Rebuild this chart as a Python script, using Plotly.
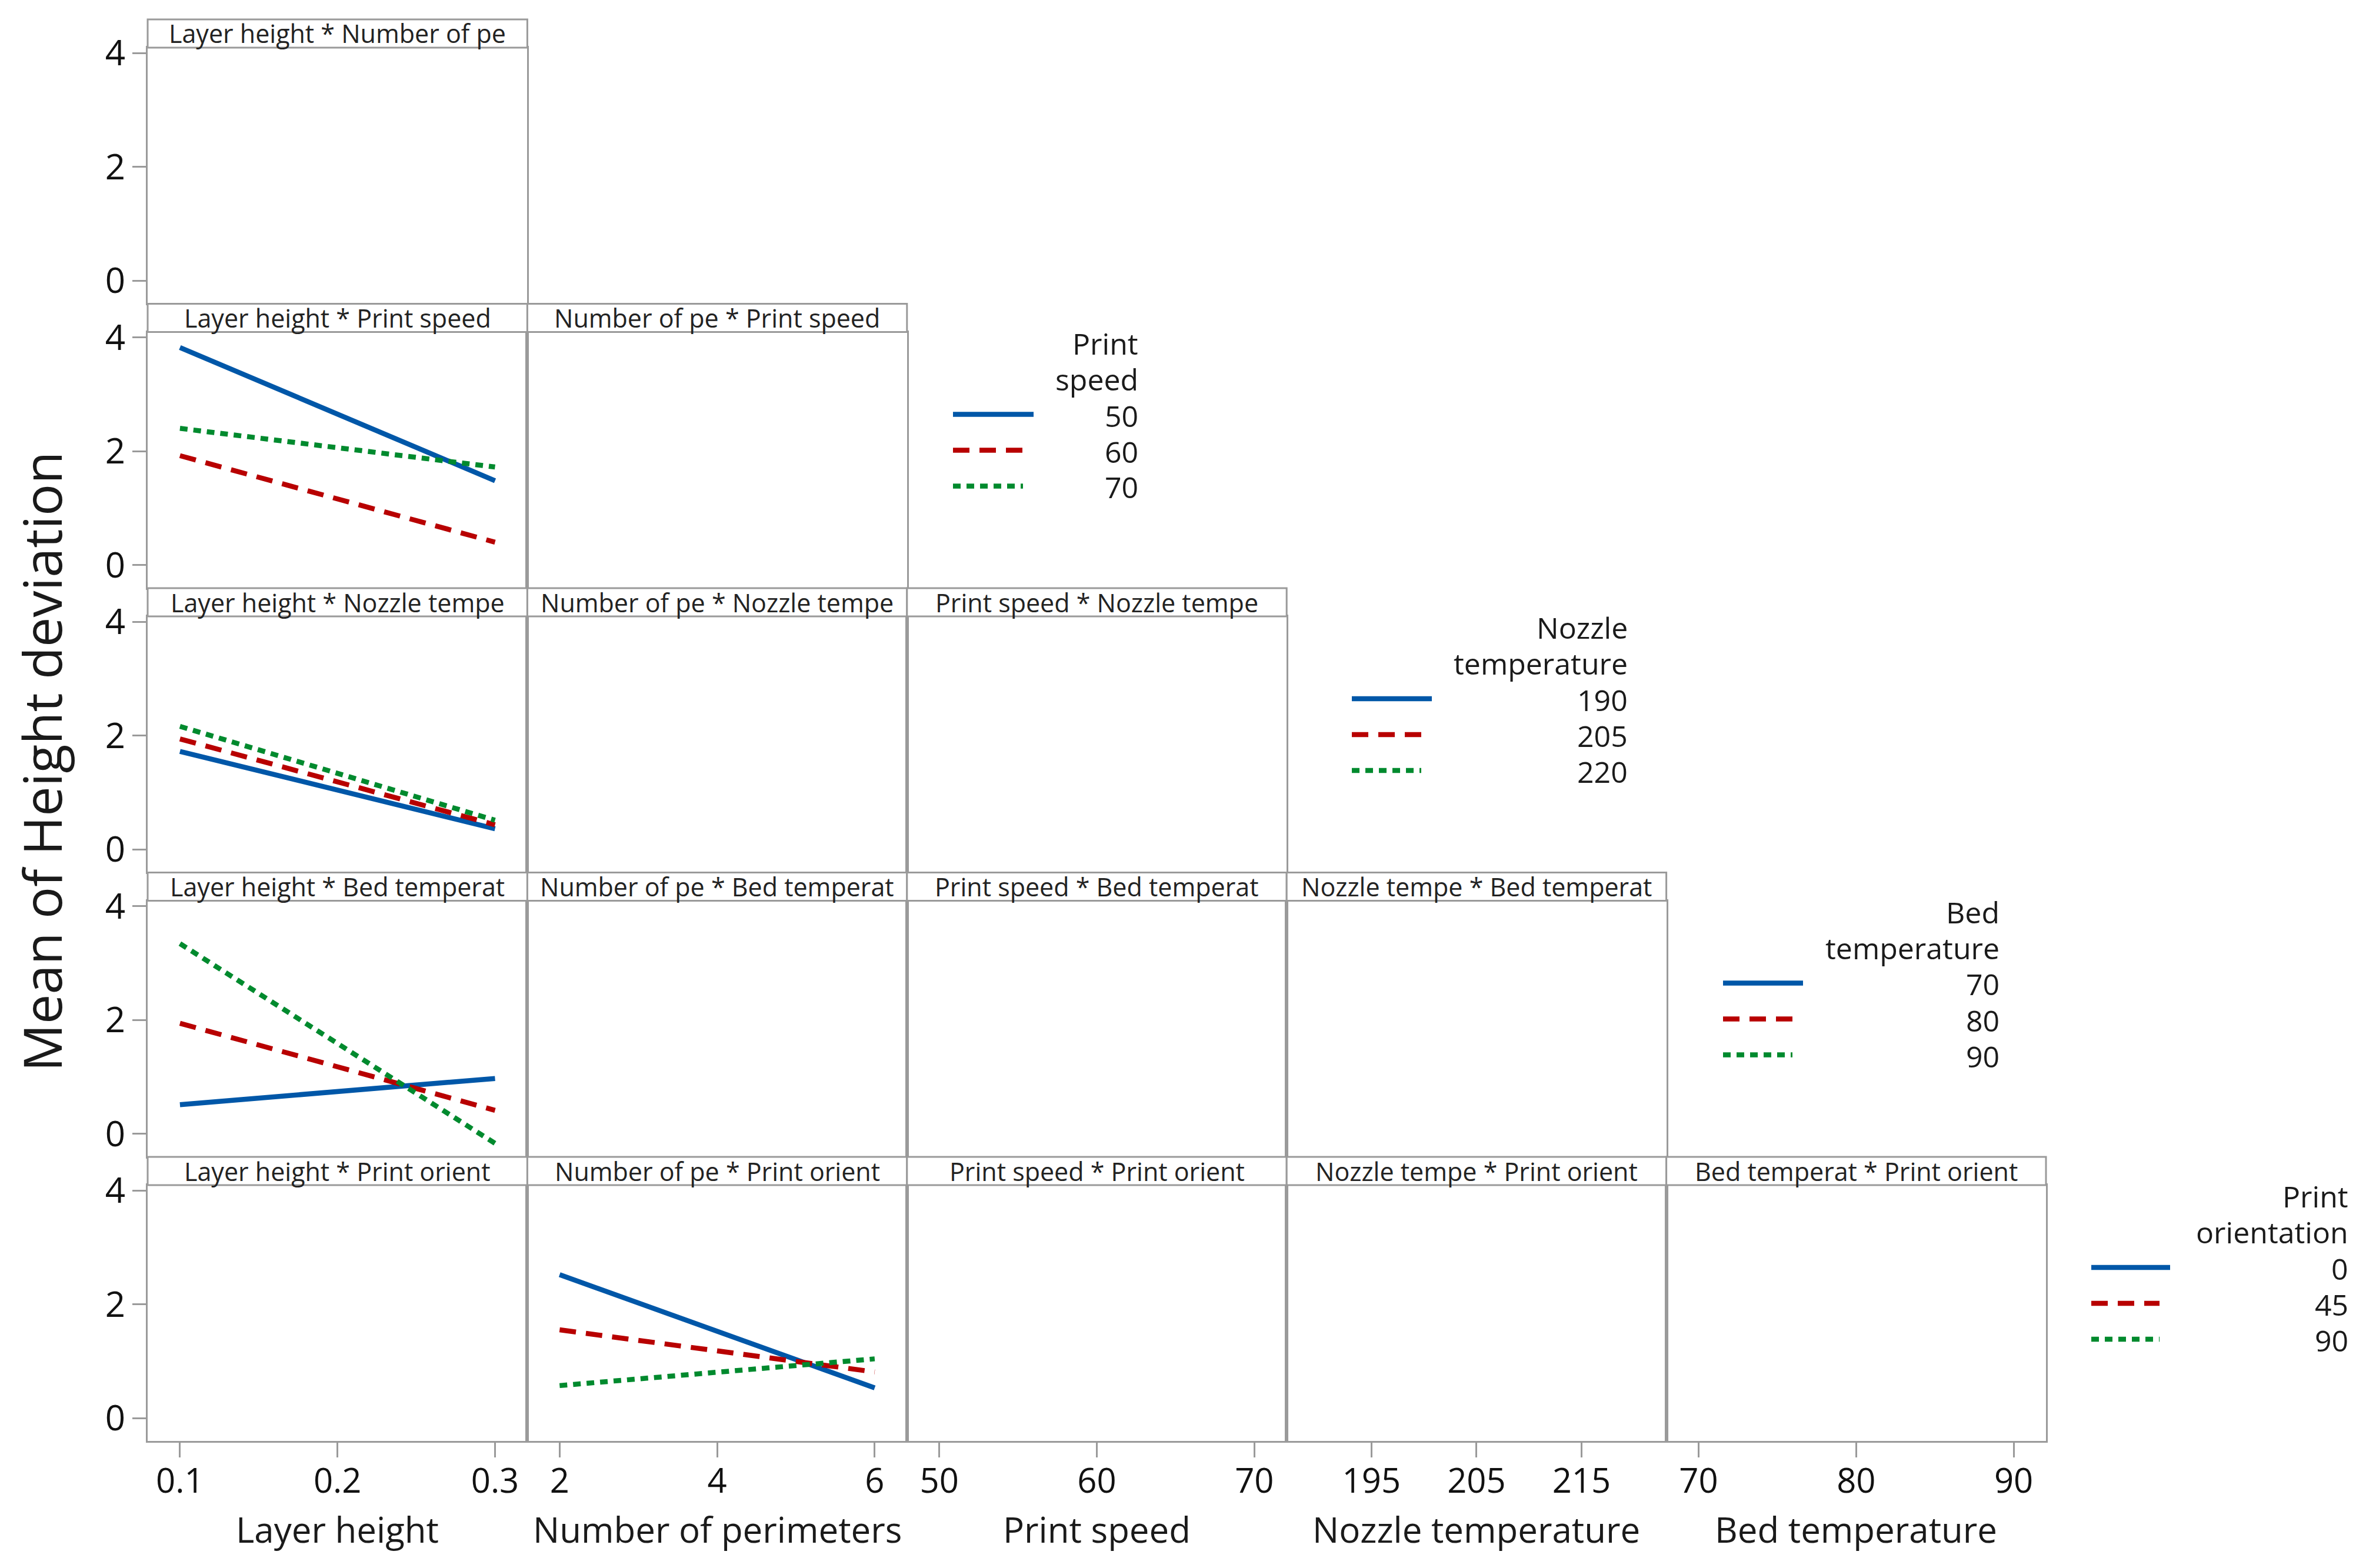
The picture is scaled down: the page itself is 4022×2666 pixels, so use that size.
import plotly.graph_objects as go

# ---------------- data ----------------
factor_names = ["Layer height", "Number of perimeters", "Print speed",
                "Nozzle temperature", "Bed temperature", "Print orientation"]
factor_short = ["Layer height", "Number of pe", "Print speed",
                "Nozzle tempe", "Bed temperat", "Print orient"]

# x-axis levels (range ends) and tick labels for the five x factors
x_level_ends = [[0.1, 0.3], [2, 6], [50, 70], [190, 220], [70, 90]]
x_ticks = [[0.1, 0.2, 0.3], [2, 4, 6], [50, 60, 70], [195, 205, 215], [70, 80, 90]]
x_tick_text = [["0.1", "0.2", "0.3"], ["2", "4", "6"], ["50", "60", "70"],
               ["195", "205", "215"], ["70", "80", "90"]]

# legend (trace) factor levels
print_speed_levels = [50, 60, 70]
nozzle_temp_levels = [190, 205, 220]
bed_temp_levels = [70, 80, 90]
print_orient_levels = [0, 45, 90]

# x positions of the plotted means
layer_height_x = [0.1, 0.3]
perimeters_x = [2, 6]

# means of height deviation (one list per legend level)
lh_by_speed = [[3.82, 1.48], [1.92, 0.40], [2.40, 1.72]]
lh_by_nozzle = [[1.72, 0.36], [1.94, 0.43], [2.16, 0.51]]
lh_by_bed = [[0.51, 0.97], [1.94, 0.41], [3.34, -0.17]]
perim_by_orient = [[2.52, 0.53], [1.55, 0.81], [0.57, 1.04]]

y_ticks = [0, 2, 4]
y_title = "Mean of Height deviation"

# ---------------- style / layout constants ----------------
W, H = 4022, 2666
FONT = "Open Sans"
GRID = "#9a9a9a"
COLORS = ["#0057a8", "#b80000", "#008a2e"]
DASHES = ["solid", "28px,17px", "13px,10px"]
LW = 8.5

COL_LEFT = 251.0
COL_W = 645.4
ROW_TOP = 33.0
ROW_PITCH = 483.5
HEADER_H = 48.0
ROW_H = 483.0
Y_RANGE = [-0.403, 4.093]
PAD_FRAC = 0.1025


def px_x(x):
    return x / W


def px_y(y):
    return 1 - y / H


fig = go.Figure()
layout = dict(
    width=W, height=H, margin=dict(l=0, r=0, t=0, b=0, pad=0, autoexpand=False),
    paper_bgcolor="white", plot_bgcolor="white", showlegend=False,
    font=dict(family=FONT, color="#1a1a1a"),
)
shapes = []
annotations = []

panel_data = {
    (1, 0): (layer_height_x, lh_by_speed),
    (2, 0): (layer_height_x, lh_by_nozzle),
    (3, 0): (layer_height_x, lh_by_bed),
    (4, 1): (perimeters_x, perim_by_orient),
}
legend_levels = {1: print_speed_levels, 2: nozzle_temp_levels,
                 3: bed_temp_levels, 4: print_orient_levels}

k = 0
for i in range(5):
    top = ROW_TOP + ROW_PITCH * i
    hb = top + HEADER_H
    bot = top + ROW_H
    for j in range(i + 1):
        k += 1
        xn = "xaxis" if k == 1 else f"xaxis{k}"
        yn = "yaxis" if k == 1 else f"yaxis{k}"
        xr = "x" if k == 1 else f"x{k}"
        yr = "y" if k == 1 else f"y{k}"
        left = COL_LEFT + COL_W * j
        right = left + COL_W
        lo, hi = x_level_ends[j]
        pad = (hi - lo) * PAD_FRAC
        bottom_row = (i == 4)
        layout[xn] = dict(
            domain=[px_x(left), px_x(right)], anchor=yr, automargin=False,
            range=[lo - pad, hi + pad], showgrid=False, zeroline=False,
            showline=True, mirror=True, linecolor=GRID, linewidth=3,
            tickvals=x_ticks[j], ticktext=x_tick_text[j],
            showticklabels=bottom_row, ticks="outside" if bottom_row else "",
            ticklen=25, tickwidth=3, tickcolor=GRID, ticklabelstandoff=-10,
            tickfont=dict(size=58, color="#111111", family=FONT),
        )
        first_col = (j == 0)
        layout[yn] = dict(
            domain=[px_y(bot), px_y(hb)], anchor=xr, automargin=False,
            range=Y_RANGE, showgrid=False, zeroline=False,
            showline=True, mirror=True, linecolor=GRID, linewidth=3,
            tickvals=y_ticks, showticklabels=first_col,
            ticks="outside" if first_col else "",
            ticklen=23, tickwidth=3, tickcolor=GRID,
            tickfont=dict(size=60, color="#111111", family=FONT),
        )
        # header strip
        shapes.append(dict(type="rect", xref="paper", yref="paper",
                           x0=px_x(left), x1=px_x(right), y0=px_y(hb), y1=px_y(top),
                           line=dict(color=GRID, width=3), fillcolor="white"))
        annotations.append(dict(xref="paper", yref="paper",
                                x=px_x((left + right) / 2), y=px_y((top + hb) / 2),
                                text=f"{factor_short[j]} * {factor_short[i + 1]}",
                                showarrow=False, xanchor="center", yanchor="middle",
                                font=dict(size=43, color="#222222", family=FONT)))
        if (i, j) in panel_data:
            xs, series = panel_data[(i, j)]
            levels = legend_levels[i]
            for s, ys in enumerate(series):
                fig.add_trace(go.Scatter(
                    x=xs, y=ys, mode="lines", xaxis=xr, yaxis=yr,
                    name=str(levels[s]),
                    line=dict(color=COLORS[s], width=LW, dash=DASHES[s]),
                    hoverinfo="skip"))
        else:
            fig.add_trace(go.Scatter(x=[None], y=[None], mode="lines",
                                     xaxis=xr, yaxis=yr, hoverinfo="skip"))

# x axis titles (bottom row)
for j in range(5):
    left = COL_LEFT + COL_W * j
    annotations.append(dict(xref="paper", yref="paper",
                            x=px_x(left + COL_W / 2), y=px_y(2600),
                            text=factor_names[j], showarrow=False,
                            xanchor="center", yanchor="middle",
                            font=dict(size=60, color="#1a1a1a", family=FONT)))

# y axis title
annotations.append(dict(xref="paper", yref="paper", x=px_x(70), y=px_y(1295),
                        text=y_title, textangle=-90, showarrow=False,
                        xanchor="center", yanchor="middle",
                        font=dict(size=90, color="#1a1a1a", family=FONT)))

# legends (one per row 1..4), drawn to the right of each row
legend_titles = {1: ["Print", "speed"], 2: ["Nozzle", "temperature"],
                 3: ["Bed", "temperature"], 4: ["Print", "orientation"]}
legend_x = {1: (1620, 1757, 1937), 2: (2298, 2434, 2769),
            3: (2929, 3065, 3401), 4: (3555, 3689, 3994)}
for i in range(1, 5):
    top = ROW_TOP + ROW_PITCH * i
    lx0, lx1, tx = legend_x[i]
    for n, line_txt in enumerate(legend_titles[i]):
        annotations.append(dict(xref="paper", yref="paper", x=px_x(tx),
                                y=px_y(top + 67 + 61 * n), text=line_txt,
                                showarrow=False, xanchor="right", yanchor="middle",
                                font=dict(size=50, color="#1a1a1a", family=FONT)))
    for s, lev in enumerate(legend_levels[i]):
        yy = top + 188 + 61 * s
        shapes.append(dict(type="line", xref="paper", yref="paper",
                           x0=px_x(lx0), x1=px_x(lx1 if s == 0 else lx1 - 18),
                           y0=px_y(yy), y1=px_y(yy),
                           line=dict(color=COLORS[s], width=LW, dash=DASHES[s])))
        annotations.append(dict(xref="paper", yref="paper", x=px_x(tx),
                                y=px_y(yy + 2), text=str(lev),
                                showarrow=False, xanchor="right", yanchor="middle",
                                font=dict(size=50, color="#1a1a1a", family=FONT)))

layout["shapes"] = shapes
layout["annotations"] = annotations
fig.update_layout(**layout)
fig.write_html("out.html")
